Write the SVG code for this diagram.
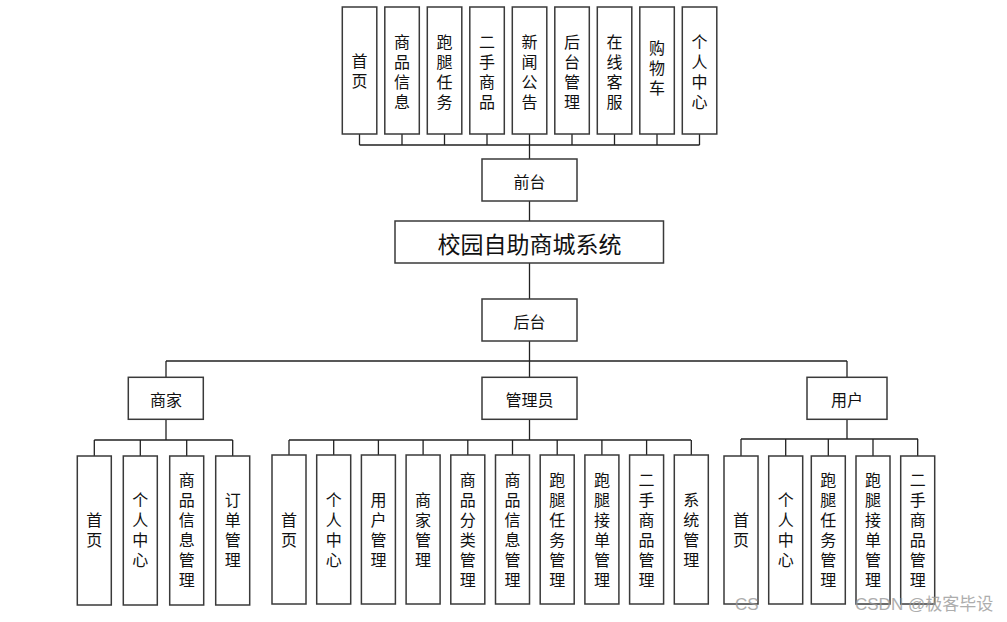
<svg xmlns="http://www.w3.org/2000/svg" width="1007" height="622" viewBox="0 0 1007 622">
<style>
.b{fill:#fff;stroke:#3a3a3a;stroke-width:1.5}
.t{font-family:"Noto Sans CJK SC","Liberation Sans",sans-serif;font-size:16px;fill:#111;text-anchor:middle;dominant-baseline:central}
.v{font-family:"Noto Sans CJK SC","Liberation Sans",sans-serif;font-size:16px;fill:#111;text-anchor:middle;writing-mode:vertical-rl;letter-spacing:4px}
.big{font-size:23px}
.c{fill:none;stroke:#222;stroke-width:1.3}
.wm{font-family:"Liberation Sans","Noto Sans CJK SC",sans-serif;font-size:17px;fill:#999;opacity:0.8}
</style>
<rect width="1007" height="622" fill="#fff"/>
<g id="connectors" class="c">
<path d="M359.5 134V145M402 134V145M444.5 134V145M487 134V145M529.5 134V145M572 134V145M614.5 134V145M657 134V145M699.5 134V145M359.5 145H699.5M529.5 145V159"/>
<path d="M529.5 201V221M529.5 263V299M529.5 341V377"/>
<path d="M166 361H847M166 361V377M847 361V377"/>
<path d="M166 419V440M94.3 440H232.7M94.3 440V456M140.3 440V456M186.7 440V456M232.7 440V456"/>
<path d="M529.5 419V440M289 440H691M289 440V455M333.7 440V455M378.4 440V455M423.1 440V455M467.8 440V455M512.5 440V455M557.2 440V455M601.9 440V455M646.6 440V455M691.3 440V455"/>
<path d="M847 419V439M741 439H918M741 439V456M785.7 439V456M828.3 439V456M873 439V456M917.7 439V456"/>
</g>
<g id="top-home"><rect class="b" x="342.3" y="7" width="34.5" height="127"/><text class="v" x="359.5" y="72.5">首页</text></g>
<g id="top-goods"><rect class="b" x="384.8" y="7" width="34.5" height="127"/><text class="v" x="402" y="74">商品信息</text></g>
<g id="top-errand"><rect class="b" x="427.3" y="7" width="34.5" height="127"/><text class="v" x="444.5" y="74">跑腿任务</text></g>
<g id="top-second"><rect class="b" x="469.8" y="7" width="34.5" height="127"/><text class="v" x="487" y="74">二手商品</text></g>
<g id="top-news"><rect class="b" x="512.3" y="7" width="34.5" height="127"/><text class="v" x="529.5" y="74">新闻公告</text></g>
<g id="top-admin"><rect class="b" x="554.8" y="7" width="34.5" height="127"/><text class="v" x="572" y="74">后台管理</text></g>
<g id="top-service"><rect class="b" x="597.3" y="7" width="34.5" height="127"/><text class="v" x="614.5" y="74">在线客服</text></g>
<g id="top-cart"><rect class="b" x="639.8" y="7" width="34.5" height="127"/><text class="v" x="657" y="70">购物车</text></g>
<g id="top-center"><rect class="b" x="682.3" y="7" width="34.5" height="127"/><text class="v" x="699.5" y="74">个人中心</text></g>
<g id="frontend"><rect class="b" x="482" y="159" width="95" height="42"/><text class="t" x="529.5" y="181">前台</text></g>
<g id="system"><rect class="b" x="395" y="221" width="268.5" height="42"/><text class="t big" x="529.5" y="242.5">校园自助商城系统</text></g>
<g id="backend"><rect class="b" x="482" y="299" width="95" height="42"/><text class="t" x="529.5" y="320.5">后台</text></g>
<g id="merchant"><rect class="b" x="128.3" y="377.3" width="75" height="42"/><text class="t" x="166" y="398.5">商家</text></g>
<g id="manager"><rect class="b" x="482" y="377.3" width="95" height="42"/><text class="t" x="529.5" y="398.5">管理员</text></g>
<g id="user"><rect class="b" x="807" y="377.3" width="80" height="42"/><text class="t" x="847" y="398.5">用户</text></g>
<g id="m-home"><rect class="b" x="77.3" y="456" width="34" height="149"/><text class="v" x="94.3" y="532">首页</text></g>
<g id="m-center"><rect class="b" x="123.3" y="456" width="34" height="149"/><text class="v" x="140.3" y="532">个人中心</text></g>
<g id="m-goods"><rect class="b" x="169.7" y="456" width="34" height="149"/><text class="v" x="186.7" y="532">商品信息管理</text></g>
<g id="m-order"><rect class="b" x="215.7" y="456" width="34" height="149"/><text class="v" x="232.7" y="532">订单管理</text></g>
<g id="a-home"><rect class="b" x="272" y="455" width="34" height="149"/><text class="v" x="289" y="531.5">首页</text></g>
<g id="a-center"><rect class="b" x="316.7" y="455" width="34" height="149"/><text class="v" x="333.7" y="531.5">个人中心</text></g>
<g id="a-user"><rect class="b" x="361.4" y="455" width="34" height="149"/><text class="v" x="378.4" y="531.5">用户管理</text></g>
<g id="a-merchant"><rect class="b" x="406.1" y="455" width="34" height="149"/><text class="v" x="423.1" y="531.5">商家管理</text></g>
<g id="a-category"><rect class="b" x="450.8" y="455" width="34" height="149"/><text class="v" x="467.8" y="531.5">商品分类管理</text></g>
<g id="a-goods"><rect class="b" x="495.5" y="455" width="34" height="149"/><text class="v" x="512.5" y="531.5">商品信息管理</text></g>
<g id="a-errand"><rect class="b" x="540.2" y="455" width="34" height="149"/><text class="v" x="557.2" y="531.5">跑腿任务管理</text></g>
<g id="a-accept"><rect class="b" x="584.9" y="455" width="34" height="149"/><text class="v" x="601.9" y="531.5">跑腿接单管理</text></g>
<g id="a-second"><rect class="b" x="629.6" y="455" width="34" height="149"/><text class="v" x="646.6" y="531.5">二手商品管理</text></g>
<g id="a-system"><rect class="b" x="674.3" y="455" width="34" height="149"/><text class="v" x="691.3" y="531.5">系统管理</text></g>
<g id="u-home"><rect class="b" x="724" y="456" width="34" height="148"/><text class="v" x="741" y="532">首页</text></g>
<g id="u-center"><rect class="b" x="768.7" y="456" width="34" height="148"/><text class="v" x="785.7" y="532">个人中心</text></g>
<g id="u-errand"><rect class="b" x="811.3" y="456" width="34" height="148"/><text class="v" x="828.3" y="532">跑腿任务管理</text></g>
<g id="u-accept"><rect class="b" x="856" y="456" width="34" height="148"/><text class="v" x="873" y="532">跑腿接单管理</text></g>
<g id="u-second"><rect class="b" x="900.7" y="456" width="34" height="148"/><text class="v" x="917.7" y="532">二手商品管理</text></g>
<g id="watermark"><text class="wm" x="735" y="610">CS</text><text class="wm" x="855" y="610">CSDN @极客毕设</text></g>
</svg>
